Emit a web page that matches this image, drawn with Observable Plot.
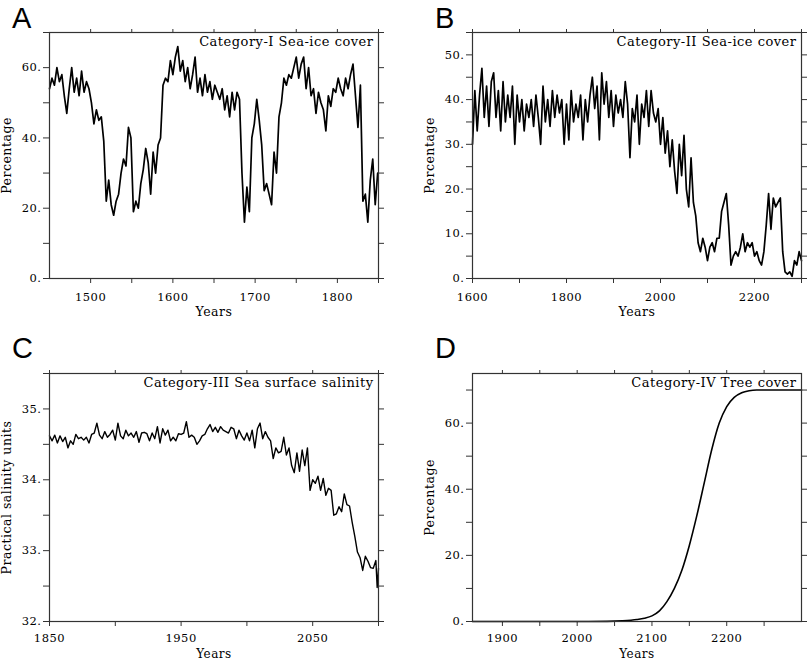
<!DOCTYPE html>
<html><head><meta charset="utf-8">
<script src="https://cdn.jsdelivr.net/npm/d3@7"></script>
<script src="https://cdn.jsdelivr.net/npm/@observablehq/plot@0.6"></script>
<style>
body{margin:0;background:#fff;}
#wrap{position:relative;width:807px;height:660px;overflow:hidden;}
.panel{position:absolute;}
.letter{position:absolute;font-family:"Liberation Sans",Arial,sans-serif;font-size:29px;line-height:1;color:#000;}
svg text{letter-spacing:0.5px;}
</style></head><body><div id="wrap"></div>
<script>
// ---------- Panel A: Category-I Sea-ice cover ----------
const yearsA = [1450,1453,1456,1459,1462,1465,1468,1471,1474,1477,1480,1483,1486,1489,1492,1495,1498,1501,1504,1507,1510,1513,1516,1519,1522,1525,1528,1531,1534,1537,1540,1543,1546,1549,1552,1555,1558,1561,1564,1567,1570,1573,1576,1579,1582,1585,1588,1591,1594,1597,1600,1603,1606,1609,1612,1615,1618,1621,1624,1627,1630,1633,1636,1639,1642,1645,1648,1651,1654,1657,1660,1663,1666,1669,1672,1675,1678,1681,1684,1687,1690,1693,1696,1699,1702,1705,1708,1711,1714,1717,1720,1723,1726,1729,1732,1735,1738,1741,1744,1747,1750,1753,1756,1759,1762,1765,1768,1771,1774,1777,1780,1783,1786,1789,1792,1795,1798,1801,1804,1807,1810,1813,1816,1819,1822,1825,1828,1831,1834,1837,1840,1843,1846,1849];
const valuesA = [54,57,55,60,56,58,52,47,54,60,
 53,57,52,59,53,56,54,50,44,48,
 45,46,39,22,28,21,18,22,24,30,
 34,32,43,40,19,22,20,27,31,37,
 33,24,36,30,38,40,55,57,56,62,
 58,63,66,59,62,56,60,54,58,63,
 53,57,52,58,53,56,51,55,53,51,
 54,48,52,46,53,48,53,51,30,16,
 26,19,40,44,51,45,38,25,27,24,
 21,36,30,46,50,57,55,58,57,60,
 63,57,61,63,54,60,52,54,47,53,
 50,48,42,52,49,54,53,57,54,52,
 57,54,58,61,52,43,55,22,24,16,
 28,34,21,30];

// ---------- Panel B: Category-II Sea-ice cover ----------
const yearsB = [1600,1605,1610,1615,1620,1625,1630,1635,1640,1645,1650,1655,1660,1665,1670,1675,1680,1685,1690,1695,1700,1705,1710,1715,1720,1725,1730,1735,1740,1745,1750,1755,1760,1765,1770,1775,1780,1785,1790,1795,1800,1805,1810,1815,1820,1825,1830,1835,1840,1845,1850,1855,1860,1865,1870,1875,1880,1885,1890,1895,1900,1905,1910,1915,1920,1925,1930,1935,1940,1945,1950,1955,1960,1965,1970,1975,1980,1985,1990,1995,2000,2005,2010,2015,2020,2025,2030,2035,2040,2045,2050,2055,2060,2065,2070,2075,2080,2085,2090,2095,2100,2105,2110,2115,2120,2125,2130,2135,2140,2145,2150,2155,2160,2165,2170,2175,2180,2185,2190,2195,2200,2205,2210,2215,2220,2225,2230,2235,2240,2245,2250,2255,2260,2265,2270,2275,2280,2285,2290,2295,2300];
const valuesB = [30,42,33,41,47,36,43,34,44,46,
 36,42,33,44,35,41,36,43,30,41,
 35,40,33,39,36,40,34,41,36,30,
 43,35,40,34,42,36,41,37,40,30,
 39,31,42,35,39,36,41,31,40,35,
 41,45,38,43,31,46,39,44,36,42,
 34,41,37,40,36,44,39,27,38,35,
 41,30,39,36,42,34,42,37,35,38,
 30,36,28,33,25,31,24,19,30,23,
 32,20,16,27,17,14,8,6,9,7,
 4,7,8,6,9,9,15,17,19,12,
 3,5,6,5,7,10,6,8,7,8,
 5,6,4,3,6,12,19,11,18,16,
 17,18,6,1.5,1,1.5,0.5,4,3,6,
 4];

// ---------- Panel C: Category-III Sea surface salinity ----------
const yearsC = [1850,1852,1854,1856,1858,1860,1862,1864,1866,1868,1870,1872,1874,1876,1878,1880,1882,1884,1886,1888,1890,1892,1894,1896,1898,1900,1902,1904,1906,1908,1910,1912,1914,1916,1918,1920,1922,1924,1926,1928,1930,1932,1934,1936,1938,1940,1942,1944,1946,1948,1950,1952,1954,1956,1958,1960,1962,1964,1966,1968,1970,1972,1974,1976,1978,1980,1982,1984,1986,1988,1990,1992,1994,1996,1998,2000,2002,2004,2006,2008,2010,2012,2014,2016,2018,2020,2022,2024,2026,2028,2030,2032,2034,2036,2038,2040,2042,2044,2046,2048,2050,2052,2054,2056,2058,2060,2062,2064,2066,2068,2070,2072,2074,2076,2078,2080,2082,2084,2086,2088,2090,2092,2094,2096,2098,2099,2100];
const valuesC = [34.62,34.55,34.63,34.52,34.62,34.54,34.6,34.45,34.55,34.5,
 34.64,34.58,34.6,34.56,34.6,34.52,34.64,34.66,34.8,34.63,
 34.58,34.68,34.6,34.64,34.7,34.56,34.8,34.62,34.58,34.7,
 34.62,34.66,34.6,34.68,34.53,34.66,34.67,34.65,34.55,34.66,
 34.58,34.75,34.52,34.72,34.63,34.7,34.55,34.6,34.55,34.65,
 34.64,34.66,34.82,34.6,34.63,34.6,34.5,34.55,34.62,34.64,
 34.72,34.78,34.68,34.74,34.67,34.75,34.7,34.68,34.66,34.74,
 34.72,34.58,34.7,34.62,34.56,34.66,34.55,34.7,34.45,34.72,
 34.8,34.58,34.68,34.6,34.55,34.3,34.45,34.38,34.4,34.6,
 34.35,34.45,34.2,34.1,34.38,34.12,34.42,34.2,34.45,33.85,
 34.0,33.95,34.05,33.85,34.02,33.78,33.88,33.85,33.5,33.52,
 33.62,33.55,33.8,33.65,33.63,33.4,33.2,32.98,32.9,32.72,
 32.92,32.85,32.76,32.75,32.86,32.48,32.75];

// ---------- Panel D: Category-IV Tree cover ----------
const yearsD = [1860,1900,1950,2000,2040,2060,2080,2090,2100,2110,2120,2130,2140,2150,2160,2170,2180,2190,2200,2210,2220,2230,2240,2260,2280,2300];
const valuesD = [0,0,0,0,0.05,0.2,0.6,1.0,1.7,3.2,6,10,15.5,23,32,42,52,60,65,67.8,69.2,69.8,70,70,70,70];

// ---------- Titles and tick labels ----------
const titles = ["Category-I Sea-ice cover","Category-II Sea-ice cover","Category-III Sea surface salinity","Category-IV Tree cover"];
const panelLetters = ["A","B","C","D"];
const yLabels = ["Percentage","Percentage","Practical salinity units","Percentage"];
const xLabel = "Years";

const xTicksA = [1500,1550,1600,1650,1700,1750,1800,1850];
const xLabA = [1500,1600,1700,1800];
const yTicksA = [0,10,20,30,40,50,60,70];
const yLabA = [0,20,40,60];

const xTicksB = [1600,1700,1800,1900,2000,2100,2200,2300];
const xLabB = [1600,1800,2000,2200];
const yTicksB = [0,5,10,15,20,25,30,35,40,45,50,55];
const yLabB = [0,10,20,30,40,50];

const xTicksC = [1850,1900,1950,2000,2050,2100];
const xLabC = [1850,1950,2050];
const yTicksC = [32,32.5,33,33.5,34,34.5,35,35.5];
const yLabC = [32,33,34,35];

const xTicksD = [1900,1950,2000,2050,2100,2150,2200,2250];
const xLabD = [1900,2000,2100,2200];
const yTicksD = [0,10,20,30,40,50,60,70];
const yLabD = [0,20,40,60];

function zip(xs, ys){ return xs.map((x,i)=>({year:x, value:ys[i]})); }

function panel(cfg){
  const axisColor = "#333";
  return Plot.plot({
    width: cfg.width, height: 330,
    marginLeft: cfg.ml, marginRight: cfg.mr, marginTop: cfg.mt, marginBottom: cfg.mb,
    x: {domain: cfg.xd, axis: null},
    y: {domain: cfg.yd, axis: null},
    style: {fontFamily: "'DejaVu Serif', serif", fontSize: "11.5px", background: "white", color: "black", overflow: "visible"},
    marks: [
      Plot.axisX(cfg.xt, {anchor: "bottom", tickSize: 5, tickPadding: cfg.xpad, stroke: axisColor, label: null,
        tickFormat: d => cfg.xl.includes(d) ? String(d) : ""}),
      Plot.axisX(cfg.xt, {anchor: "top", tickSize: 4, stroke: axisColor, label: null, tickFormat: () => ""}),
      Plot.axisY(cfg.yt, {anchor: "left", tickSize: 6, tickPadding: 2, stroke: axisColor, label: null,
        tickFormat: d => cfg.yl.includes(d) ? d + "." : ""}),
      Plot.axisY(cfg.yt, {anchor: "right", tickSize: 5, stroke: axisColor, label: null, tickFormat: () => ""}),
      Plot.line(cfg.data, {x: "year", y: "value", stroke: "black", strokeWidth: cfg.sw, curve: cfg.curve || "linear"}),
      Plot.frame({stroke: axisColor, strokeWidth: 1.2}),
      Plot.text([cfg.title], {frameAnchor: "top-right", textAnchor: "end", lineAnchor: "top", dx: -5, dy: 4, fontSize: 13}),
      Plot.text([xLabel], {frameAnchor: "bottom", textAnchor: "middle", lineAnchor: "top", dy: cfg.xlabDy, fontSize: cfg.xlabFs}),
      Plot.text([cfg.ylabel], {frameAnchor: "left", rotate: -90, textAnchor: "middle", lineAnchor: "middle", dx: -43, fontSize: 12.5})
    ]
  });
}

const wrap = document.getElementById("wrap");
const specs = [
  {left:0, top:0, width:400, ml:49, mr:22, mt:32, mb:52, xd:[1450,1850], yd:[0,70], xt:xTicksA, xl:xLabA, yt:yTicksA, yl:yLabA, data:zip(yearsA,valuesA), sw:1.7, xpad:9, xlabDy:29, xlabFs:12.5},
  {left:400, top:0, width:407, ml:72, mr:6, mt:32, mb:52, xd:[1600,2300], yd:[0,55], xt:xTicksB, xl:xLabB, yt:yTicksB, yl:yLabB, data:zip(yearsB,valuesB), sw:1.7, xpad:9, xlabDy:29, xlabFs:12.5},
  {left:0, top:330, width:400, ml:49, mr:22, mt:43, mb:39, xd:[1850,2100], yd:[32,35.5], xt:xTicksC, xl:xLabC, yt:yTicksC, yl:yLabC, data:zip(yearsC,valuesC), sw:1.4, xpad:7, xlabDy:28, xlabFs:12},
  {left:400, top:330, width:407, ml:72, mr:6, mt:43, mb:39, xd:[1860,2300], yd:[0,75], xt:xTicksD, xl:xLabD, yt:yTicksD, yl:yLabD, data:zip(yearsD,valuesD), sw:1.6, curve:"monotone-x", xpad:7, xlabDy:28, xlabFs:12}
];
specs.forEach((s,i)=>{
  s.title = titles[i]; s.ylabel = yLabels[i];
  const div = document.createElement("div");
  div.className = "panel";
  div.style.left = s.left + "px"; div.style.top = s.top + "px";
  div.appendChild(panel(s));
  wrap.appendChild(div);
  const L = document.createElement("div");
  L.className = "letter";
  L.textContent = panelLetters[i];
  L.style.left = (s.left + (i%2 ? 35 : 12)) + "px";
  L.style.top = (s.top + 4) + "px";
  wrap.appendChild(L);
});
</script>
</body></html>
